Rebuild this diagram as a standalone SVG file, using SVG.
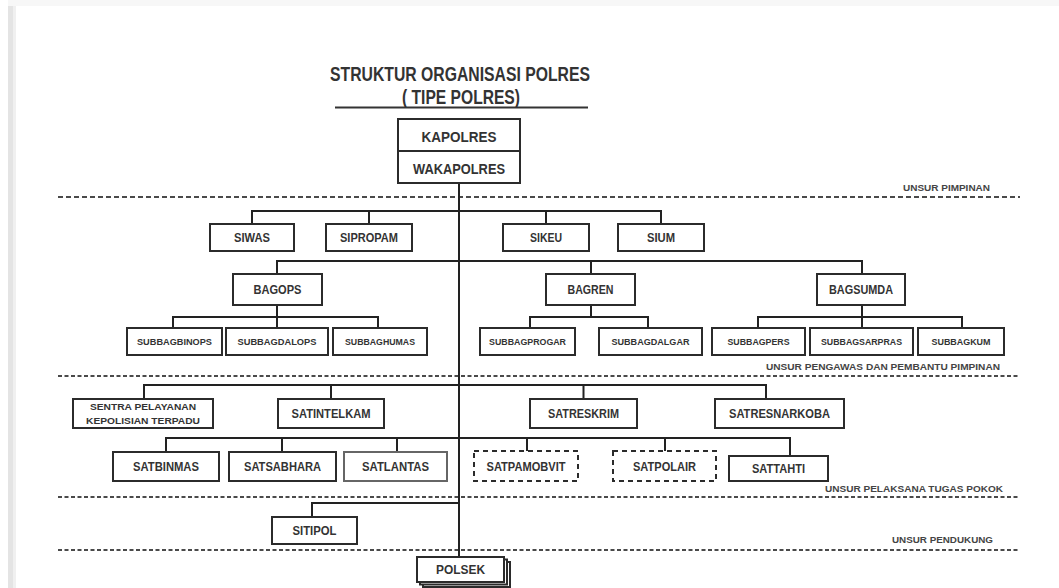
<svg xmlns="http://www.w3.org/2000/svg" width="1059" height="588" viewBox="0 0 1059 588">
<style>
.box{fill:#fff;stroke:#2b2b2b;stroke-width:2}
.lt{stroke:#666}
.dbox{fill:#fff;stroke:#2b2b2b;stroke-width:2;stroke-dasharray:5 4}
.t{font-family:"Liberation Sans",Arial,sans-serif;font-weight:bold;fill:#333;text-anchor:middle}
.h{font-size:14.5px}
.m{font-size:12.5px}
.s{font-size:9.5px}
.lbl{font-family:"Liberation Sans",Arial,sans-serif;font-weight:bold;font-size:9.5px;fill:#444}
.sep{stroke:#4a4a4a;stroke-width:1.8;stroke-dasharray:4 2.5;fill:none}
.con{stroke:#222;stroke-width:2;fill:none}
</style>
<rect x="0" y="0" width="1059" height="588" fill="#fff"/>
<rect x="8" y="0" width="1051" height="6" fill="#f7f7f7"/>
<rect x="8" y="6" width="5" height="582" fill="#e4e4e4"/>
<rect x="13" y="6" width="3" height="582" fill="#f0f0f0"/>

<g id="title">
<text class="t" x="460" y="81" font-size="20.5" textLength="260" lengthAdjust="spacingAndGlyphs">STRUKTUR ORGANISASI POLRES</text>
<text class="t" x="461" y="104" font-size="19.5" textLength="118" lengthAdjust="spacingAndGlyphs">( TIPE POLRES)</text>
<line x1="335" y1="107.5" x2="588" y2="107.5" stroke="#333" stroke-width="2"/>
</g>

<g id="separators">
<line class="sep" x1="58" y1="197" x2="1020" y2="197" style="stroke-dasharray:5 3"/>
<line class="sep" x1="58" y1="376" x2="1020" y2="376"/>
<line class="sep" x1="58" y1="497" x2="1020" y2="497"/>
<line class="sep" x1="58" y1="550" x2="1020" y2="550"/>
<text class="lbl" x="903" y="191" textLength="87" lengthAdjust="spacingAndGlyphs">UNSUR PIMPINAN</text>
<text class="lbl" x="766" y="370" textLength="234" lengthAdjust="spacingAndGlyphs">UNSUR PENGAWAS DAN PEMBANTU PIMPINAN</text>
<text class="lbl" x="825" y="492" textLength="178" lengthAdjust="spacingAndGlyphs">UNSUR PELAKSANA TUGAS POKOK</text>
<text class="lbl" x="892" y="543" textLength="101" lengthAdjust="spacingAndGlyphs">UNSUR PENDUKUNG</text>
</g>

<g id="connectors">
<path class="con" d="M459 183V557"/>
<path class="con" d="M252 224V211H661V224M369 211V224M546 211V224"/>
<path class="con" d="M277 274V261H862V274M591 261V274"/>
<path class="con" d="M277 305V328M173 328V317H378V328"/>
<path class="con" d="M591 305V317M530 328V317H648V328"/>
<path class="con" d="M862 305V328M758 328V317H962V328"/>
<path class="con" d="M144 399V385H766V399M331 385V399M583.5 385V399"/>
<path class="con" d="M166 452V438H790V456M282 438V452M397 438V452M527 438V451M665 438V451"/>
<path class="con" d="M459 503H312V517"/>
</g>

<g id="kapolres">
<rect class="box" x="398" y="119" width="122" height="64"/>
<line x1="398" y1="151" x2="520" y2="151" stroke="#2b2b2b" stroke-width="2"/>
<text class="t h" x="459" y="142" textLength="75" lengthAdjust="spacingAndGlyphs">KAPOLRES</text>
<text class="t h" x="459" y="174" textLength="92" lengthAdjust="spacingAndGlyphs">WAKAPOLRES</text>
</g>

<g id="siwas"><rect class="box" x="210" y="224" width="84" height="27"/><text class="t m" x="252" y="242" textLength="36" lengthAdjust="spacingAndGlyphs">SIWAS</text></g>
<g id="sipropam"><rect class="box" x="326" y="224" width="86" height="27"/><text class="t m" x="369" y="242" textLength="58" lengthAdjust="spacingAndGlyphs">SIPROPAM</text></g>
<g id="sikeu"><rect class="box" x="503" y="224" width="86" height="27"/><text class="t m" x="546" y="242" textLength="32" lengthAdjust="spacingAndGlyphs">SIKEU</text></g>
<g id="sium"><rect class="box" x="618" y="224" width="86" height="27"/><text class="t m" x="661" y="242" textLength="28" lengthAdjust="spacingAndGlyphs">SIUM</text></g>

<g id="bagops"><rect class="box" x="233" y="274" width="89" height="31"/><text class="t m" x="277.5" y="294" textLength="48" lengthAdjust="spacingAndGlyphs">BAGOPS</text></g>
<g id="bagren"><rect class="box" x="546" y="274" width="89" height="31"/><text class="t m" x="590.5" y="294" textLength="46" lengthAdjust="spacingAndGlyphs">BAGREN</text></g>
<g id="bagsumda"><rect class="box" x="817" y="274" width="88" height="31"/><text class="t m" x="861" y="294" textLength="64" lengthAdjust="spacingAndGlyphs">BAGSUMDA</text></g>

<g id="subbagbinops"><rect class="box" x="127" y="328" width="95" height="27"/><text class="t s" x="174.5" y="345" textLength="75" lengthAdjust="spacingAndGlyphs">SUBBAGBINOPS</text></g>
<g id="subbagdalops"><rect class="box" x="226" y="328" width="102" height="27"/><text class="t s" x="277" y="345" textLength="79" lengthAdjust="spacingAndGlyphs">SUBBAGDALOPS</text></g>
<g id="subbaghumas"><rect class="box" x="333" y="328" width="94" height="27"/><text class="t s" x="380" y="345" textLength="70" lengthAdjust="spacingAndGlyphs">SUBBAGHUMAS</text></g>
<g id="subbagprogar"><rect class="box" x="480" y="328" width="95" height="27"/><text class="t s" x="527.5" y="345" textLength="77" lengthAdjust="spacingAndGlyphs">SUBBAGPROGAR</text></g>
<g id="subbagdalgar"><rect class="box" x="599" y="328" width="103" height="27"/><text class="t s" x="650.5" y="345" textLength="78" lengthAdjust="spacingAndGlyphs">SUBBAGDALGAR</text></g>
<g id="subbagpers"><rect class="box" x="712" y="328" width="93" height="27"/><text class="t s" x="758.5" y="345" textLength="62" lengthAdjust="spacingAndGlyphs">SUBBAGPERS</text></g>
<g id="subbagsarpras"><rect class="box" x="810" y="328" width="103" height="27"/><text class="t s" x="861.5" y="345" textLength="81" lengthAdjust="spacingAndGlyphs">SUBBAGSARPRAS</text></g>
<g id="subbagkum"><rect class="box" x="918" y="328" width="86" height="27"/><text class="t s" x="961" y="345" textLength="59" lengthAdjust="spacingAndGlyphs">SUBBAGKUM</text></g>

<g id="sentra"><rect class="box" x="73" y="399" width="140" height="29"/>
<text class="t" font-size="9.5" x="143" y="410" textLength="106" lengthAdjust="spacingAndGlyphs">SENTRA PELAYANAN</text>
<text class="t" font-size="9.5" x="143" y="424" textLength="114" lengthAdjust="spacingAndGlyphs">KEPOLISIAN TERPADU</text></g>
<g id="satintelkam"><rect class="box" x="278" y="399" width="106" height="29"/><text class="t m" x="331" y="418" textLength="79" lengthAdjust="spacingAndGlyphs">SATINTELKAM</text></g>
<g id="satreskrim"><rect class="box" x="530" y="399" width="107" height="29"/><text class="t m" x="583.5" y="418" textLength="71" lengthAdjust="spacingAndGlyphs">SATRESKRIM</text></g>
<g id="satresnarkoba"><rect class="box" x="715" y="399" width="129" height="29"/><text class="t m" x="779.5" y="418" textLength="101" lengthAdjust="spacingAndGlyphs">SATRESNARKOBA</text></g>

<g id="satbinmas"><rect class="box" x="113" y="452" width="106" height="29"/><text class="t m" x="166" y="471" textLength="66" lengthAdjust="spacingAndGlyphs">SATBINMAS</text></g>
<g id="satsabhara"><rect class="box" x="229" y="452" width="107" height="29"/><text class="t m" x="282.5" y="471" textLength="77" lengthAdjust="spacingAndGlyphs">SATSABHARA</text></g>
<g id="satlantas"><rect class="box lt" x="344" y="452" width="103" height="29"/><text class="t m" x="395.5" y="471" textLength="67" lengthAdjust="spacingAndGlyphs">SATLANTAS</text></g>
<g id="satpamobvit"><rect class="dbox" x="474" y="451" width="104" height="30"/><text class="t m" x="526" y="471" textLength="79" lengthAdjust="spacingAndGlyphs">SATPAMOBVIT</text></g>
<g id="satpolair"><rect class="dbox" x="613" y="451" width="103" height="30"/><text class="t m" x="664.5" y="471" textLength="63" lengthAdjust="spacingAndGlyphs">SATPOLAIR</text></g>
<g id="sattahti"><rect class="box" x="729" y="456" width="99" height="25"/><text class="t m" x="778.5" y="473" textLength="53" lengthAdjust="spacingAndGlyphs">SATTAHTI</text></g>

<g id="sitipol"><rect class="box" x="272" y="517" width="85" height="27"/><text class="t m" x="314.5" y="535" textLength="44" lengthAdjust="spacingAndGlyphs">SITIPOL</text></g>

<g id="polsek">
<rect class="box" x="423" y="562" width="87" height="25"/>
<rect class="box" x="420" y="559.5" width="87" height="25"/>
<rect class="box" x="417" y="557" width="87" height="25"/>
<text class="t m" x="460.5" y="574" textLength="49" lengthAdjust="spacingAndGlyphs">POLSEK</text>
</g>
</svg>
